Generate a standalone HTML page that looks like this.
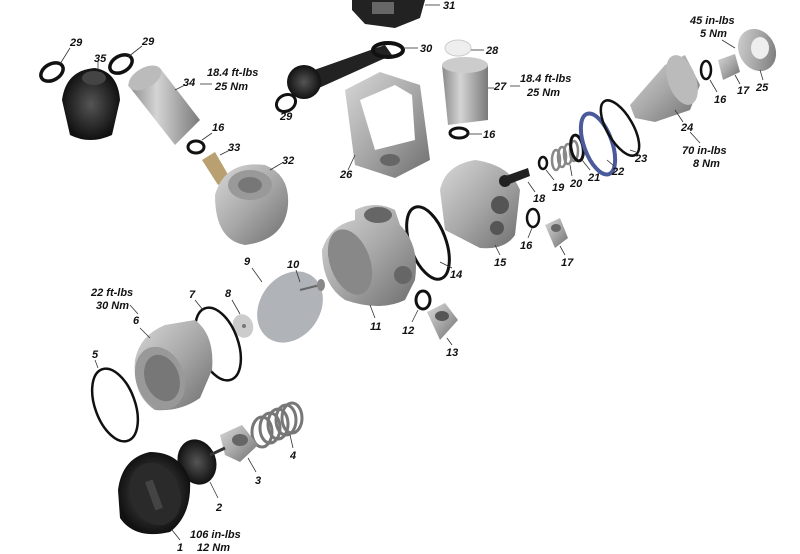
<!DOCTYPE html>
<html><head><meta charset="utf-8"><style>
html,body{margin:0;padding:0;background:#fff;}
svg{display:block}
text{font-family:"Liberation Sans",sans-serif;font-weight:bold;font-style:italic;font-size:11px;fill:#111}
.l{stroke:#333;stroke-width:0.8;fill:none}
.r{fill:none;stroke:#111}
</style></head><body>
<svg width="800" height="554" viewBox="0 0 800 554" xmlns="http://www.w3.org/2000/svg">
<defs>
<linearGradient id="m" x1="0" y1="0" x2="1" y2="1"><stop offset="0" stop-color="#d8d8d8"/><stop offset=".5" stop-color="#a8a8a8"/><stop offset="1" stop-color="#6e6e6e"/></linearGradient>
<linearGradient id="m2" x1="0" y1="0" x2="1" y2="0"><stop offset="0" stop-color="#8a8a8a"/><stop offset=".4" stop-color="#d4d4d4"/><stop offset="1" stop-color="#7a7a7a"/></linearGradient>
<radialGradient id="b"><stop offset="0" stop-color="#555"/><stop offset="1" stop-color="#111"/></radialGradient>
</defs>
<!-- 31 -->
<path d="M352 0 L425 0 L420 18 L395 28 L365 24 L352 10Z" fill="#222"/>
<rect x="372" y="2" width="22" height="12" fill="#666"/>
<line class="l" x1="425" y1="5" x2="440" y2="5"/><text x="443" y="9">31</text>
<!-- 30 handle -->
<path d="M300 75 L385 45 L392 55 L310 92Z" fill="#222"/>
<ellipse class="r" cx="388" cy="50" rx="15" ry="7" stroke-width="4"/>
<circle cx="304" cy="82" r="17" fill="url(#b)"/>
<line class="l" x1="403" y1="48" x2="418" y2="48"/><text x="420" y="52">30</text>
<!-- 28 -->
<ellipse cx="458" cy="48" rx="13" ry="8" fill="#eee" stroke="#ccc"/>
<line class="l" x1="471" y1="50" x2="484" y2="50"/><text x="486" y="54">28</text>
<!-- 29s -->
<ellipse class="r" cx="52" cy="72" rx="12" ry="8" stroke-width="3.5" transform="rotate(-30 52 72)"/>
<line class="l" x1="60" y1="64" x2="70" y2="48"/><text x="70" y="46">29</text>
<ellipse class="r" cx="121" cy="64" rx="12" ry="8" stroke-width="3.5" transform="rotate(-30 121 64)"/>
<line class="l" x1="128" y1="57" x2="142" y2="46"/><text x="142" y="45">29</text>
<ellipse class="r" cx="286" cy="103" rx="10" ry="8" stroke-width="3" transform="rotate(-30 286 103)"/>
<text x="280" y="120">29</text>
<!-- 35 -->
<path d="M62 100 Q66 70 95 68 Q118 72 120 100 L112 135 Q90 145 70 135Z" fill="url(#b)"/>
<ellipse cx="94" cy="78" rx="12" ry="7" fill="#444"/>
<line class="l" x1="98" y1="70" x2="98" y2="62"/><text x="94" y="62">35</text>
<!-- 34 -->
<path d="M128 85 L160 68 L200 120 L175 145Z" fill="url(#m2)"/>
<ellipse cx="145" cy="78" rx="18" ry="10" fill="#bbb" transform="rotate(-30 145 78)"/>
<line class="l" x1="175" y1="90" x2="185" y2="85"/><text x="183" y="86">34</text>
<text x="207" y="76">18.4 ft-lbs</text><text x="215" y="90">25 Nm</text>
<line class="l" x1="200" y1="84" x2="212" y2="84"/>
<!-- 16 near 34 -->
<ellipse class="r" cx="196" cy="147" rx="8" ry="6" stroke-width="3"/>
<line class="l" x1="202" y1="140" x2="212" y2="133"/><text x="212" y="131">16</text>
<!-- 33 -->
<path d="M202 160 L215 152 L230 178 L218 185Z" fill="#b8a070"/>
<line class="l" x1="220" y1="155" x2="230" y2="150"/><text x="228" y="151">33</text>
<!-- 32 -->
<path d="M215 195 Q225 160 265 165 Q290 175 288 205 Q285 240 245 245 Q215 240 215 195Z" fill="url(#m)"/>
<ellipse cx="250" cy="185" rx="22" ry="15" fill="#999"/><ellipse cx="250" cy="185" rx="12" ry="8" fill="#777"/>
<line class="l" x1="270" y1="170" x2="282" y2="163"/><text x="282" y="164">32</text>
<!-- 26 -->
<path d="M345 90 L380 72 L420 85 L430 160 L395 178 L355 165Z" fill="url(#m)"/>
<path d="M360 100 L395 85 L412 95 L415 140 L375 150Z" fill="#fff"/>
<ellipse cx="390" cy="160" rx="10" ry="6" fill="#666"/>
<line class="l" x1="355" y1="155" x2="348" y2="170"/><text x="340" y="178">26</text>
<!-- 27 -->
<path d="M442 65 L488 65 L488 120 L448 125Z" fill="url(#m2)"/>
<ellipse cx="465" cy="65" rx="23" ry="8" fill="#ccc"/>
<line class="l" x1="488" y1="88" x2="494" y2="88"/><text x="494" y="90">27</text>
<line class="l" x1="510" y1="86" x2="520" y2="86"/>
<text x="520" y="82">18.4 ft-lbs</text><text x="527" y="96">25 Nm</text>
<ellipse class="r" cx="459" cy="133" rx="9" ry="5" stroke-width="3"/>
<line class="l" x1="468" y1="134" x2="482" y2="134"/><text x="483" y="138">16</text>
<!-- 15 -->
<path d="M440 190 Q445 165 475 160 Q510 165 520 190 L515 235 Q505 250 480 248 L445 230Z" fill="url(#m)"/>
<circle cx="500" cy="205" r="9" fill="#555"/><circle cx="497" cy="228" r="7" fill="#555"/>
<line class="l" x1="495" y1="245" x2="500" y2="255"/><text x="494" y="266">15</text>
<!-- 14 -->
<ellipse class="r" cx="428" cy="243" rx="18" ry="38" stroke-width="3" transform="rotate(-20 428 243)"/>
<line class="l" x1="440" y1="262" x2="452" y2="268"/><text x="450" y="278">14</text>
<!-- 18-23 -->
<path d="M500 178 L528 168 L530 176 L504 186Z" fill="#222"/>
<circle cx="505" cy="181" r="6" fill="#222"/>
<line class="l" x1="528" y1="182" x2="535" y2="192"/><text x="533" y="202">18</text>
<ellipse class="r" cx="543" cy="163" rx="4" ry="6" stroke-width="2.5"/>
<line class="l" x1="546" y1="170" x2="554" y2="180"/><text x="552" y="191">19</text>
<g fill="none" stroke="#888" stroke-width="2.5"><ellipse cx="556" cy="160" rx="4" ry="10"/><ellipse cx="562" cy="157" rx="4" ry="10"/><ellipse cx="568" cy="154" rx="4" ry="10"/><ellipse cx="574" cy="151" rx="4" ry="10"/></g>
<line class="l" x1="570" y1="165" x2="572" y2="176"/><text x="570" y="187">20</text>
<ellipse class="r" cx="577" cy="148" rx="6" ry="13" stroke-width="3" transform="rotate(-10 577 148)"/>
<line class="l" x1="582" y1="160" x2="590" y2="170"/><text x="588" y="181">21</text>
<ellipse cx="598" cy="144" rx="14" ry="32" fill="none" stroke="#4a5a9a" stroke-width="4" transform="rotate(-20 598 144)"/>
<line class="l" x1="607" y1="160" x2="614" y2="166"/><text x="612" y="175">22</text>
<ellipse class="r" cx="620" cy="128" rx="13" ry="31" stroke-width="2.5" transform="rotate(-30 620 128)"/>
<line class="l" x1="630" y1="150" x2="636" y2="152"/><text x="635" y="162">23</text>
<!-- 24 -->
<path d="M630 105 L665 65 L685 55 L700 85 L690 110 L655 122 L635 118Z" fill="url(#m)"/>
<ellipse cx="682" cy="80" rx="14" ry="26" fill="#bbb" transform="rotate(-20 682 80)"/>
<line class="l" x1="675" y1="110" x2="683" y2="122"/><text x="681" y="131">24</text>
<line class="l" x1="690" y1="132" x2="700" y2="143"/>
<text x="682" y="154">70 in-lbs</text><text x="693" y="167">8 Nm</text>
<!-- 16,17,25 top right -->
<ellipse class="r" cx="706" cy="70" rx="5" ry="9" stroke-width="2.5"/>
<line class="l" x1="710" y1="80" x2="717" y2="92"/><text x="714" y="103">16</text>
<path d="M718 60 L735 54 L740 72 L723 80Z" fill="url(#m)"/>
<line class="l" x1="735" y1="75" x2="740" y2="84"/><text x="737" y="94">17</text>
<ellipse cx="757" cy="50" rx="18" ry="22" fill="url(#m)" transform="rotate(-30 757 50)"/>
<ellipse cx="760" cy="48" rx="9" ry="11" fill="#eee"/>
<line class="l" x1="760" y1="70" x2="763" y2="80"/><text x="756" y="91">25</text>
<text x="690" y="24">45 in-lbs</text><text x="700" y="37">5 Nm</text>
<line class="l" x1="722" y1="40" x2="735" y2="48"/>
<!-- 16,17 mid -->
<ellipse class="r" cx="533" cy="218" rx="6" ry="9" stroke-width="2.5"/>
<line class="l" x1="532" y1="228" x2="528" y2="238"/><text x="520" y="249">16</text>
<path d="M545 225 L560 218 L568 238 L555 248Z" fill="url(#m)"/><ellipse cx="556" cy="228" rx="5" ry="4" fill="#666"/>
<line class="l" x1="560" y1="246" x2="565" y2="255"/><text x="561" y="266">17</text>
<!-- 11 -->
<path d="M322 250 Q330 225 355 220 L355 210 Q375 200 395 210 L400 225 Q420 245 415 280 L405 300 Q380 312 345 300 Q322 285 322 250Z" fill="url(#m)"/>
<ellipse cx="350" cy="262" rx="20" ry="34" fill="#888" transform="rotate(-20 350 262)"/>
<ellipse cx="378" cy="215" rx="14" ry="8" fill="#666"/>
<circle cx="403" cy="275" r="9" fill="#666"/>
<line class="l" x1="370" y1="305" x2="375" y2="318"/><text x="370" y="330">11</text>
<!-- 12,13 -->
<ellipse class="r" cx="423" cy="300" rx="7" ry="9" stroke-width="3"/>
<line class="l" x1="418" y1="310" x2="412" y2="322"/><text x="402" y="334">12</text>
<path d="M427 312 L445 303 L458 320 L440 340Z" fill="url(#m)"/><ellipse cx="442" cy="316" rx="7" ry="5" fill="#555"/>
<line class="l" x1="447" y1="338" x2="452" y2="345"/><text x="446" y="356">13</text>
<!-- 9,10 -->
<ellipse cx="290" cy="307" rx="30" ry="38" fill="#b0b4b8" transform="rotate(35 290 307)"/>
<line class="l" x1="262" y1="282" x2="252" y2="268"/><text x="244" y="265">9</text>
<line x1="300" y1="290" x2="320" y2="285" stroke="#666" stroke-width="2"/>
<ellipse cx="321" cy="285" rx="4" ry="6" fill="#888"/>
<line class="l" x1="300" y1="282" x2="296" y2="270"/><text x="287" y="268">10</text>
<!-- 8 -->
<ellipse cx="243" cy="326" rx="10" ry="12" fill="#ccc" transform="rotate(-20 243 326)"/><circle cx="244" cy="326" r="2" fill="#777"/>
<line class="l" x1="240" y1="314" x2="232" y2="300"/><text x="225" y="297">8</text>
<!-- 7 -->
<ellipse class="r" cx="218" cy="344" rx="20" ry="38" stroke-width="2.5" transform="rotate(-20 218 344)"/>
<line class="l" x1="203" y1="310" x2="195" y2="300"/><text x="189" y="298">7</text>
<!-- 6 -->
<path d="M135 360 Q140 335 165 325 L195 320 Q215 335 212 370 L200 398 Q180 412 155 410 Q132 395 135 360Z" fill="url(#m)"/>
<ellipse cx="160" cy="378" rx="24" ry="32" fill="#999" transform="rotate(-20 160 378)"/>
<ellipse cx="162" cy="378" rx="17" ry="24" fill="#777" transform="rotate(-20 162 378)"/>
<line class="l" x1="150" y1="338" x2="140" y2="328"/><text x="133" y="324">6</text>
<line class="l" x1="130" y1="305" x2="138" y2="314"/>
<text x="91" y="296">22 ft-lbs</text><text x="96" y="309">30 Nm</text>
<!-- 5 -->
<ellipse class="r" cx="115" cy="405" rx="20" ry="38" stroke-width="2.5" transform="rotate(-20 115 405)"/>
<line class="l" x1="98" y1="368" x2="95" y2="360"/><text x="92" y="358">5</text>
<!-- 4 -->
<g fill="none" stroke="#777" stroke-width="3"><ellipse cx="262" cy="432" rx="10" ry="15"/><ellipse cx="270" cy="428" rx="10" ry="15"/><ellipse cx="278" cy="424" rx="10" ry="15"/><ellipse cx="286" cy="420" rx="10" ry="15"/><ellipse cx="292" cy="418" rx="10" ry="15"/></g>
<line class="l" x1="290" y1="435" x2="293" y2="448"/><text x="290" y="459">4</text>
<!-- 3 -->
<path d="M220 435 L242 425 L258 445 L240 462 L225 455Z" fill="url(#m)"/><ellipse cx="240" cy="440" rx="8" ry="6" fill="#666"/>
<line class="l" x1="248" y1="458" x2="256" y2="472"/><text x="255" y="484">3</text>
<!-- 2 -->
<ellipse cx="197" cy="462" rx="19" ry="23" fill="url(#b)" transform="rotate(-20 197 462)"/>
<line x1="210" y1="455" x2="225" y2="448" stroke="#333" stroke-width="3"/>
<line class="l" x1="210" y1="482" x2="218" y2="498"/><text x="216" y="511">2</text>
<!-- 1 -->
<path d="M118 490 Q122 458 150 452 Q180 452 190 480 Q192 515 170 532 Q135 540 120 518Z" fill="url(#b)"/>
<ellipse cx="155" cy="494" rx="25" ry="32" fill="#2a2a2a" transform="rotate(-20 155 494)"/>
<rect x="150" y="480" width="8" height="30" fill="#444" transform="rotate(-20 154 495)"/>
<line class="l" x1="172" y1="530" x2="180" y2="540"/><text x="177" y="551">1</text>
<text x="190" y="538">106 in-lbs</text><text x="197" y="551">12 Nm</text>
</svg>
</body></html>
